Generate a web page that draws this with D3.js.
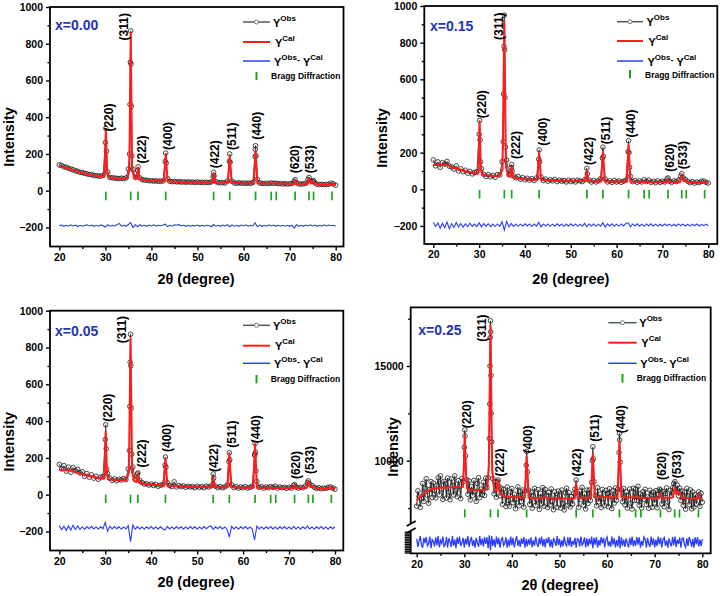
<!DOCTYPE html>
<html><head><meta charset="utf-8">
<script src="https://cdn.jsdelivr.net/npm/d3@7"></script>
<style>
body{margin:0;background:#fff}
svg{display:block}
text{font-family:"Liberation Sans",Arial,Helvetica,sans-serif;font-weight:bold}
</style>
</head><body>
<svg id="c" width="720" height="596"></svg>
<script>
// ---------------- DATA ----------------
const obsStart = 20;           // first 2θ of the scans
const braggPos = [30.1, 35.5, 37.1, 43.1, 53.5, 57.0, 62.6, 66.0, 67.1, 71.2, 74.2, 75.2, 79.2];
const hklLabels = ["(220)", "(311)", "(222)", "(400)", "(422)", "(511)", "(440)", "(620)", "(533)"];
const xMajor = [20, 30, 40, 50, 60, 70, 80];
const xMinor = [25, 35, 45, 55, 65, 75];
const yMajor = [-200, 0, 200, 400, 600, 800, 1000];
const yMinor = [-100, 100, 300, 500, 700, 900];
const yMajor25 = [10000, 15000];
const yMinor25 = [7500, 12500, 17500];

// x = 0.00  (obs every 0.5°)
const obs00 = [140,138,130,128,122,118,114,108,106,100, 99,94,92,88,88,83,82,80,79,84,
  262,102,72,70,69,67,66,68,65,70, 118,870,115,72,110,70,60,58,57,54,
  55,52,54,51,52,53,160,66,51,49, 50,48,49,47,48,46,48,46,47,45,
  47,45,46,44,46,44,48,100,49,44, 43,44,42,53,200,52,42,41,43,40,
  42,40,41,40,44,185,62,42,40,39, 40,39,42,40,41,38,39,37,38,36,
  38,39,52,43,37,36,38,40,62,54, 51,42,35,34,35,33,34,35,41,37, 30];
const obsPeak00 = [[30.1,340],[30.25,215],[35.25,200],[35.35,470],[35.42,700],[35.58,690],[35.65,460],[35.75,190],
  [37.1,130],[43.1,205],[43.2,150],[53.4,78],[53.6,80],[56.9,160],[57.1,155],[62.55,225],[62.6,245],[62.7,190],
  [71.2,60],[74.2,72],[75.2,55]];
const cal00 = [[20,133],[22,120],[24,104],[26,91],[28,81],[29.7,76],[29.85,110],[30.1,335],[30.35,110],[30.6,76],[31,71],
  [33,66],[34.8,68],[35.2,110],[35.5,860],[35.8,110],[36.3,72],[36.8,64],[37.1,125],[37.4,64],[38,60],[40,54],[42.7,51],
  [43.1,200],[43.5,51],[46,48],[50,46],[53.2,45],[53.5,95],[53.8,45],[56.6,43],[57.0,190],[57.4,43],[60,41],[62.2,41],
  [62.6,215],[63.0,41],[65.8,40],[66.0,44],[66.2,40],[67.0,41],[70.9,37],[71.2,58],[71.5,37],[73.9,37],[74.2,68],[74.6,40],
  [75.2,50],[75.6,36],[78,33],[78.9,33],[79.2,40],[79.5,32],[80,30]];
const diff00 = [0,3,-4,2,-3,4,-2,3,-5,2, -3,1,4,-2,3,-4,2,-3,4,-1, -8,5,-3,2,-2,4,12,-3,2,-4,
  6,16,-10,4,-6,5,-3,2,-4,3, -2,4,-3,2,-1,3,8,-5,2,-3, 4,3,5,-2,3,-4,2,-3,1,-2,
  3,-4,2,-3,2,-1,-5,6,-3,2, -4,3,-2,5,-6,4,-3,2,-4,3, -2,4,-3,2,-2,16,-6,3,-4,2,
  -3,4,-2,3,-4,2,-3,2,-3,2, -4,2,-14,5,-3,2,-4,3,-2,4, -2,3,-4,2,-3,4,-2,3,-1,2, -3];
const hklX00 = [30.8, 33.9, 37.8, 43.5, 53.8, 57.4, 62.85, 71.2, 74.4];
const hklY00 = [322, 818, 148, 222, 122, 222, 277, 95, 95];

// x = 0.15  (obs every 0.5°)
const obs15 = [160,128,150,120,145,138,152,126,122,110, 128,100,112,96,104,88,98,84,92,95,
  300,112,82,70,80,68,76,66,80,78, 150,950,160,80,118,72,62,70,55,64,
  52,60,50,58,48,62,165,68,48,56, 44,52,46,54,42,50,44,48,40,50,
  42,48,40,50,46,42,52,115,50,40, 48,40,46,58,230,56,40,46,38,48,
  40,46,38,44,50,205,70,42,48,38, 46,40,52,42,50,38,44,36,46,38,
  44,40,56,44,38,46,42,50,72,62, 54,44,36,42,34,40,36,44,45,38, 34];
const obsPeak15 = [[30.1,375],[30.2,270],[30.3,150],[35.25,260],[35.35,520],[35.42,780],[35.58,760],[35.65,500],[35.75,230],
  [37.1,135],[37.2,100],[43.1,215],[43.2,150],[53.6,85],[56.9,170],[57.1,180],[62.6,265],[62.7,200],[62.8,120],
  [71.2,62],[74.2,85]];
const cal15 = [[20,132],[21,133],[22.5,133],[23.5,128],[25,112],[27,98],[29,88],[29.75,86],[29.85,120],[30.1,370],[30.35,120],
  [30.6,82],[31,78],[33,72],[34.5,74],[35.1,110],[35.5,920],[35.85,120],[36.4,72],[36.8,68],[37.1,120],[37.4,66],[38,60],
  [40,55],[42.7,51],[43.1,200],[43.5,51],[46,48],[50,45],[53.2,44],[53.5,100],[53.8,44],[56.6,43],[57.0,205],[57.4,43],
  [60,41],[62.2,41],[62.6,245],[63.0,41],[65.8,40],[66.0,45],[66.2,40],[68,39],[70.9,38],[71.2,55],[71.5,38],[73.8,39],
  [74.2,78],[74.6,45],[75.2,48],[75.6,37],[78,36],[78.9,35],[79.2,43],[79.5,34],[80,33]];
const diff15 = [15,-8,12,-18,10,-14,16,-20,8,-12, 14,-10,8,-12,6,-9,10,-7,5,-8, 12,-10,8,-6,7,-9,5,-8,6,-7,
  18,-28,20,-10,9,-8,6,-7,5,-6, 7,-5,6,-8,5,-6,14,-10,6,-5, 6,-7,5,-6,7,-5,6,-8,5,-6,
  7,-5,6,-7,5,-6,9,-8,6,-5, 6,-7,5,-6,13,-12,6,-5,7,-6, 5,-7,6,-5,8,12,-10,6,-5,7,
  -6,5,-7,6,-5,7,-6,5,-6,4, -5,6,-4,5,-6,4,-5,6,-4,5, -5,4,-6,5,-4,6,-5,4,-3,5, -4];
const hklX15 = [30.5, 34.3, 37.9, 43.8, 54.0, 57.5, 63.0, 71.6, 74.4];
const hklY15 = [388, 815, 165, 238, 132, 246, 282, 96, 110];

// x = 0.05  (obs every 0.5°)
const obs05 = [165,140,158,128,150,122,148,130,138,118, 125,100,115,95,108,90,100,84,96,98,
  300,115,90,78,86,76,84,80,88,82, 140,872,150,84,112,78,66,58,60,52,
  58,50,56,46,52,54,160,66,50,44, 70,42,50,44,48,40,46,42,44,38,
  46,40,44,38,46,42,48,112,46,38, 44,38,42,52,228,54,38,44,36,42,
  38,44,36,40,46,215,72,40,44,36, 42,38,44,40,46,36,42,38,40,35,
  40,36,50,42,36,40,38,46,66,58, 50,40,34,38,32,36,34,40,42,36, 30];
const obsPeak05 = [[30.1,380],[30.2,250],[30.3,140],[35.25,240],[35.35,480],[35.42,720],[35.58,700],[35.65,470],[35.75,220],
  [37.1,118],[43.1,205],[43.2,150],[53.6,90],[56.9,180],[57.1,190],[62.55,220],[62.6,278],[62.7,230],[62.8,130],
  [71.2,55],[74.2,75]];
const cal05 = [[20,135],[21.5,133],[22.8,131],[24,118],[26,104],[28,93],[29.75,87],[29.85,120],[30.1,345],[30.35,120],[30.6,84],
  [31,82],[33,78],[34.6,80],[35.15,120],[35.5,850],[35.85,120],[36.3,74],[36.8,68],[37.1,115],[37.4,64],[38,62],[40,55],
  [42.7,49],[43.1,200],[43.5,49],[46,46],[50,42],[53.2,41],[53.5,95],[53.8,41],[56.6,40],[57.0,225],[57.4,40],[60,38],
  [62.2,38],[62.6,275],[63.0,38],[65.8,37],[66.0,41],[66.2,37],[68,36],[70.9,36],[71.2,52],[71.5,36],[73.8,37],[74.2,74],
  [74.6,42],[75.2,45],[75.6,34],[78,33],[78.9,32],[79.2,42],[79.5,31],[80,30]];
const diff05 = [12,-10,8,-15,10,-12,14,-9,10,-8, 6,-8,7,-5,8,-6,5,-7,6,-5, 30,-18,8,-6,7,-5,6,-8,5,-6,
  12,-75,15,-8,7,-6,5,-7,6,-5, 7,-6,5,-7,6,-5,-12,8,-6,5, -6,7,-5,6,-7,5,-6,7,-5,6,
  -7,5,-6,7,-5,6,10,-8,6,-5, 7,-6,5,-8,-50,8,-6,5,-7,6, -5,7,-6,5,-8,-65,10,-6,5,-7,
  6,-5,7,-6,5,-7,6,-5,7,-6, 5,-7,8,-6,5,-7,6,-5,9,-6, 5,-7,6,-5,7,-6,5,-7,6,-5, 6];
const hklX05 = [30.6, 33.5, 37.95, 43.3, 53.7, 57.5, 62.7, 71.4, 74.4];
const hklY05 = [397, 823, 148, 232, 123, 255, 279, 85, 113];

// x = 0.25  (obs and difference every 0.25°)
const obs25 = [7600,8410,8120,7540,8000,8800,7850,8550, 9050,8180,7750,8480,8900,8060,8820,8430,
  8040,8700,9100,8200,9200,8500,7960,8910, 8780,8030,9080,8340,7940,9040,8690,8190,
  9200,8450,8100,8950,8650,8000,9060,8900, 10710,10260,9000,8230,8930,7930,8630,8170,
  8960,8360,7850,8800,9100,8050,8500,8200, 8860,8160,9080,8580,9100,11170,17390,11000,
  9050,8250,8880,8070,8900,8650,8150,8550, 7700,8490,8180,7580,8610,7900,7600,8340,
  8530,7780,8230,7470,7970,8620,7620,8370, 7850,8450,7550,8400,9760,9400,8450,7700,
  8340,7490,8140,8540,7640,7930,8480,7430, 8270,7720,8580,7600,8480,8160,7530,8320,
  7660,8510,7860,7410,8360,8050,7550,8400, 8150,7500,8450,7750,7400,8300,8550,7650,
  8310,7560,8110,7710,8260,8500,8980,8300, 7540,8390,7940,8590,7650,8250,7450,8450,
  7750,8450,7900,8860,10740,8900,8150,7620, 8580,7830,8230,7530,8480,7980,7630,8430,
  8270,7570,8520,8120,7470,8410,7760,8560, 7910,8500,10430,9920,8450,7830,8530,7680,
  8350,7500,8150,8500,7750,7450,8550,7900, 8500,7900,8650,7650,8250,7500,8360,7960,
  8490,7690,8090,7490,8440,8190,7540,8340, 7770,8420,7520,8220,8500,8450,7720,8370,
  7570,8270,8570,7820,7420,8440,8150,8560, 8800,8900,8350,8700,8150,8550,7900,8400,
  7640,8340,7440,8540,8140,7680,8460,7460, 8350,7550,8200,7710,8100,8350,7590,8280, 7810];
const obsPeak25 = [[30.1,11620],[30.15,11300],[35.35,13000],[35.4,15000],[35.45,16500],[35.55,16800],[35.6,14500],[35.65,12500],
  [37.1,8980],[43.1,10490],[56.9,10000],[57.1,10100],[62.6,11450],[62.65,11100]];
const cal25 = [[20,7900],[21,8150],[22,8350],[23,8480],[24,8540],[26,8580],[28,8600],[29.75,8620],[29.85,9300],[30.1,11360],
  [30.35,9300],[30.6,8520],[31,8480],[33,8450],[34.8,8480],[35.15,9600],[35.5,17160],[35.85,9500],[36.3,8450],[36.8,8420],
  [37.1,8980],[37.4,8350],[38,8150],[40,8080],[42.7,8050],[43.1,10230],[43.5,8060],[46,8020],[47,8080],[47.5,8020],[50,8000],
  [53.2,8010],[53.5,8800],[53.8,8040],[56.6,8050],[57.0,10360],[57.4,8070],[60,8070],[62.2,8060],[62.6,11000],[63.0,8080],
  [65.8,8060],[66.0,8150],[66.2,8060],[68,8040],[70.9,8020],[71.2,8280],[71.5,8020],[73.8,8060],[74.2,8590],[74.6,8250],
  [75.2,8350],[75.6,8050],[78,8000],[78.9,8010],[79.2,8230],[79.5,7990],[80,7960]];
const diff25 = [400,-550,150,700,-300,-650,500,-100, 600,-450,-200,650,-700,300,100,-500,
  550,-350,700,-600,200,-150,650,-500, -300,600,-650,450,50,-550,700,-400,
  300,-700,550,-200,650,-450,-100,500, -600,400,-300,700,-550,150,600,-450,
  250,-650,500,-100,-550,700,-350,400, -500,600,-200,550,-700,800,-950,700,
  -450,350,-600,650,-250,500,-650,200, 600,-400,-100,550,-650,300,-500,650,
  -350,500,-600,150,700,-450,250,-550, 450,-200,600,-650,400,-500,350,-300,
  550,-600,200,-400,650,-150,-550,500, -250,650,-500,350,-600,450,-100,600,
  -550,300,-650,500,100,-450,700,-350, 400,-600,250,-500,650,-200,-450,550,
  -400,600,-550,150,-300,500,-650,400, 300,-500,650,-350,-100,550,-600,450,
  -500,400,-250,650,-700,500,-300,600, -650,250,-400,600,-150,500,-600,350,
  600,-450,100,-550,650,-300,450,-600, 250,-500,750,-700,550,-400,300,-550,
  450,-150,-600,500,-350,650,-500,200, -450,600,-300,550,-650,150,-400,600,
  350,-600,500,-200,-550,650,-350,450, -600,300,-450,650,-250,500,-600,350,
  550,-400,200,-650,450,-100,-500,600, -350,650,-550,300,-200,550,-650,400,
  500,-300,-600,450,-450,600,150,-550, 400,-650,550,-250,600,-500,300,-450, 350];
const hklX25 = [30.5, 33.65, 37.5, 43.4, 53.6, 57.45, 62.8, 71.45, 74.6];
const hklY25 = [11710, 16280, 9160, 10390, 9160, 11000, 11450, 8980, 9070];

// ---------------- LAYOUT ----------------
const panels = [
  { name:"x=0.00", obs:obs00, obsStep:0.5, obsPeak:obsPeak00, cal:cal00, diff:diff00, diffStep:0.5, diffOffset:-190,
    lblX:hklX00, lblY:hklY00, bragg:[-5,-52], obsLineW:0.9,
    xr:[59.3,335.7], yd:[0,1000], yr:[190.7,7], frame:{l:50,t:7,r:343.5,b:246.5},
    nameXY:[55,30], yTitle:[14,137], xTitle:[196,284],
    leg:{x1:243,x2:270,rows:[22,42,61],tx:273,by:[72,80],btx:271,bty:79} },
  { name:"x=0.15", obs:obs15, obsStep:0.5, obsPeak:obsPeak15, cal:cal15, diff:diff15, diffStep:0.5, diffOffset:-195,
    lblX:hklX15, lblY:hklY15, bragg:[-3,-50], obsLineW:0.9,
    xr:[433.3,708.3], yd:[0,1000], yr:[189.3,6], frame:{l:424.3,t:6,r:717.3,b:244},
    nameXY:[430,31], yTitle:[387,138], xTitle:[570.8,283.5],
    leg:{x1:617,x2:643,rows:[21.7,41,61],tx:646.5,by:[70,78.3],btx:645,bty:78} },
  { name:"x=0.05", obs:obs05, obsStep:0.5, obsPeak:obsPeak05, cal:cal05, diff:diff05, diffStep:0.5, diffOffset:-180,
    lblX:hklX05, lblY:hklY05, bragg:[0,-45], obsLineW:0.9,
    xr:[59.3,335], yd:[0,1000], yr:[494.7,310.7], frame:{l:50,t:310.7,r:343.3,b:550.5},
    nameXY:[55,336], yTitle:[14,441.7], xTitle:[196,587],
    leg:{x1:243,x2:270,rows:[325.3,345.7,363.3],tx:273,by:[375,383.3],btx:270.7,bty:382} },
  { name:"x=0.25", obs:obs25, obsStep:0.25, obsPeak:obsPeak25, cal:cal25, diff:diff25, diffStep:0.25, diffOffset:0,
    lblX:hklX25, lblY:hklY25, bragg:[7430,7000], broken:true, obsLineW:1.1,
    xr:[416.7,702.3], yd:[10000,15000], yr:[460.7,366], frame:{l:410.7,t:307.3,r:710.7,b:553.3},
    low:{d:[-1300,1300], r:[553.3,531]}, breakY:[524,531],
    nameXY:[418.3,335], yTitle:[398,447], xTitle:[560,590],
    leg:{x1:608.3,x2:636.7,rows:[322.7,342.7,363.3],tx:639.3,by:[374,382.7],btx:636.7,bty:381} }
];

const svg = d3.select("#c");
const FONT = '"Liberation Sans",Arial,Helvetica,sans-serif';

function styleAxis(ga, size) {
  ga.attr("font-family", FONT).attr("font-size", size).attr("font-weight", "bold");
  ga.select(".domain").remove();
  ga.selectAll("line").attr("stroke", "#000").attr("stroke-width", 1.4);
  ga.selectAll("text").attr("fill", "#000");
}

function drawPanel(p) {
  const g = svg.append("g");
  const f = p.frame;
  const x = d3.scaleLinear().domain([20, 80]).range(p.xr);
  const y = d3.scaleLinear().domain(p.yd).range(p.yr);
  const yLow = p.low ? d3.scaleLinear().domain(p.low.d).range(p.low.r) : null;
  const line = d3.line().x(d => x(d[0])).y(d => y(d[1]));

  // observed
  const obsPts = p.obs.map((v, i) => [obsStart + i * p.obsStep, v])
    .concat(p.obsPeak).sort((a, b) => a[0] - b[0]);
  g.append("path").datum(obsPts).attr("d", line)
    .attr("fill", "none").attr("stroke", "#3a3a3a").attr("stroke-width", p.obsLineW);
  g.append("g").selectAll("circle").data(obsPts).join("circle")
    .attr("cx", d => x(d[0])).attr("cy", d => y(d[1])).attr("r", 2.3)
    .attr("fill", "none").attr("stroke", "#1c1c1c").attr("stroke-width", 0.8);

  // calculated
  g.append("path").datum(p.cal).attr("d", line)
    .attr("fill", "none").attr("stroke", "#ff1c1c").attr("stroke-width", 2).attr("stroke-linejoin", "round");

  // difference
  const diffPts = p.diff.map((v, i) => [obsStart + i * p.diffStep, v]);
  const dline = d3.line().x(d => x(d[0])).y(d => yLow ? yLow(d[1]) : y(p.diffOffset + d[1]));
  g.append("path").datum(diffPts).attr("d", dline)
    .attr("fill", "none").attr("stroke", "#2a3cff").attr("stroke-width", yLow ? 1.3 : 1.1);

  // Bragg positions
  g.append("g").selectAll("line").data(braggPos).join("line")
    .attr("x1", d => x(d)).attr("x2", d => x(d))
    .attr("y1", y(p.bragg[0])).attr("y2", y(p.bragg[1]))
    .attr("stroke", "#1aa51a").attr("stroke-width", 1.7);

  // hkl labels
  g.append("g").selectAll("text").data(hklLabels).join("text")
    .attr("transform", (d, i) => `translate(${x(p.lblX[i])},${y(p.lblY[i])}) rotate(-90)`)
    .attr("dy", "0.36em").attr("font-size", 12).attr("fill", "#000").text(d => d);

  // frame
  if (!p.broken) {
    g.append("rect").attr("x", f.l).attr("y", f.t).attr("width", f.r - f.l).attr("height", f.b - f.t)
      .attr("fill", "none").attr("stroke", "#000").attr("stroke-width", 1.8);
  } else {
    g.append("path")
      .attr("d", `M${f.l},${p.breakY[0]}L${f.l},${f.t}L${f.r},${f.t}L${f.r},${f.b}L${f.l},${f.b}L${f.l},${p.breakY[1]}`)
      .attr("fill", "none").attr("stroke", "#000").attr("stroke-width", 1.8);
    g.append("line").attr("x1", f.l - 4).attr("y1", p.breakY[0] + 2).attr("x2", f.l + 5).attr("y2", p.breakY[0] - 3)
      .attr("stroke", "#000").attr("stroke-width", 1.8);
    g.append("line").attr("x1", f.l - 4).attr("y1", p.breakY[1] + 2).attr("x2", f.l + 5).attr("y2", p.breakY[1] - 3)
      .attr("stroke", "#000").attr("stroke-width", 1.8);
    const gl = g.append("g").attr("transform", `translate(${f.l},0)`)
      .call(d3.axisLeft(yLow).ticks(14).tickSize(6).tickFormat(""));
    styleAxis(gl, 10.5);
  }

  // x axis
  const gx = g.append("g").attr("transform", `translate(0,${f.b})`)
    .call(d3.axisBottom(x).tickValues(xMajor).tickSize(4).tickPadding(3).tickFormat(d3.format("d")));
  styleAxis(gx, 10.5);
  const gx2 = g.append("g").attr("transform", `translate(0,${f.b})`)
    .call(d3.axisBottom(x).tickValues(xMinor).tickSize(2.5).tickFormat(""));
  styleAxis(gx2, 10.5);

  // y axis
  const maj = p.broken ? yMajor25 : yMajor, mnr = p.broken ? yMinor25 : yMinor;
  const gy = g.append("g").attr("transform", `translate(${f.l},0)`)
    .call(d3.axisLeft(y).tickValues(maj).tickSize(4).tickPadding(3).tickFormat(d3.format("d")));
  styleAxis(gy, 10.5);
  const gy2 = g.append("g").attr("transform", `translate(${f.l},0)`)
    .call(d3.axisLeft(y).tickValues(mnr).tickSize(2.5).tickFormat(""));
  styleAxis(gy2, 10.5);

  // titles
  g.append("text").attr("transform", `translate(${p.yTitle[0]},${p.yTitle[1]}) rotate(-90)`)
    .attr("text-anchor", "middle").attr("font-size", 14.5).attr("fill", "#000").text("Intensity");
  g.append("text").attr("x", p.xTitle[0]).attr("y", p.xTitle[1])
    .attr("text-anchor", "middle").attr("font-size", 14.5).attr("fill", "#000").text("2θ (degree)");
  g.append("text").attr("x", p.nameXY[0]).attr("y", p.nameXY[1])
    .attr("font-size", 14).attr("fill", "#2233b4").text(p.name);

  // legend
  const L = p.leg, lg = g.append("g");
  const mid = (L.x1 + L.x2) / 2;
  lg.append("line").attr("x1", L.x1).attr("x2", L.x2).attr("y1", L.rows[0]).attr("y2", L.rows[0])
    .attr("stroke", "#4d5c5c").attr("stroke-width", 1.5);
  lg.append("circle").attr("cx", mid).attr("cy", L.rows[0]).attr("r", 2)
    .attr("fill", "#fff").attr("stroke", "#666").attr("stroke-width", 0.9);
  lg.append("line").attr("x1", L.x1).attr("x2", L.x2).attr("y1", L.rows[1]).attr("y2", L.rows[1])
    .attr("stroke", "#ff1c1c").attr("stroke-width", 2);
  lg.append("line").attr("x1", L.x1).attr("x2", L.x2).attr("y1", L.rows[2]).attr("y2", L.rows[2])
    .attr("stroke", "#2a3cff").attr("stroke-width", 1.5);
  lg.append("line").attr("x1", mid).attr("x2", mid).attr("y1", L.by[0]).attr("y2", L.by[1])
    .attr("stroke", "#1aa51a").attr("stroke-width", 2);

  const t1 = lg.append("text").attr("x", L.tx).attr("y", L.rows[0] + 4.5).attr("font-size", 11).attr("fill", "#000");
  t1.append("tspan").text("Y");
  t1.append("tspan").attr("dy", -6).attr("font-size", 8).text("Obs");
  const t2 = lg.append("text").attr("x", L.tx + 2).attr("y", L.rows[1] + 4.5).attr("font-size", 11).attr("fill", "#000");
  t2.append("tspan").text("Y");
  t2.append("tspan").attr("dy", -6).attr("font-size", 8).text("Cal");
  const t3 = lg.append("text").attr("x", L.tx + 1).attr("y", L.rows[2] + 4.5).attr("font-size", 11).attr("fill", "#000");
  t3.append("tspan").text("Y");
  t3.append("tspan").attr("dy", -6).attr("font-size", 8).text("Obs");
  t3.append("tspan").attr("dy", 3).attr("font-size", 9).text("-");
  t3.append("tspan").attr("dy", 3).attr("dx", 3).attr("font-size", 11).text("Y");
  t3.append("tspan").attr("dy", -6).attr("font-size", 8).text("Cal");
  lg.append("text").attr("x", L.btx).attr("y", L.bty).attr("font-size", 8.5).attr("fill", "#000").text("Bragg Diffraction");
}

panels.forEach(drawPanel);
</script>
</body></html>
